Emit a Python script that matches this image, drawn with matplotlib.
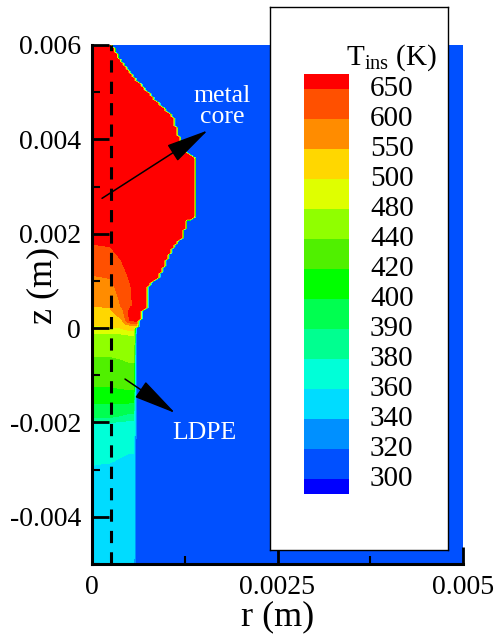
#Libraries
import numpy as np
import matplotlib
matplotlib.use('Agg')
import matplotlib.pyplot as plt

plt.rcParams['font.family'] = ['Liberation Serif', 'DejaVu Serif']
plt.rcParams['mathtext.fontset'] = 'custom'
plt.rcParams['mathtext.rm'] = 'Liberation Serif'

# Contour levels (K) and the band colours (one more band than levels)
levels = [300, 320, 340, 360, 380, 390, 400, 420, 440, 480, 500, 550, 600, 650]
band_colors = ['#0000FF', '#0050FF', '#0090FF', '#00DCFF', '#00FFD8', '#00FF90', '#00FF50',
               '#00FF00', '#50F000', '#90FF00', '#DFFF00', '#FFD700', '#FF8C00', '#FF5000', '#FF0000']

# Outer edge of metal core / LDPE (mm)
edge_z = [-5.0, 0.0, 0.02, 0.38, 0.44, 0.66, 0.87, 1.08, 1.38, 1.72, 1.93, 2.29, 2.35,
          3.62, 3.66, 4.05, 4.47, 5.04, 5.47, 5.85, 6.0]
edge_r = [0.57, 0.57, 0.62, 0.67, 0.74, 0.74, 0.74, 0.88, 0.98, 1.09, 1.21, 1.28, 1.39,
          1.37, 1.29, 1.16, 1.08, 0.71, 0.47, 0.30, 0.26]

# Temperature inside core + LDPE (K): rows at table_z, columns at table_r (mm)
table_r = [0.0, 0.25, 0.40, 0.50, 0.60]
table_z = [-5.0, -2.9, -2.0, -1.9, -1.6, -1.25, -0.6, -0.1, 0.05, 0.15, 0.3, 0.47, 0.9, 1.12, 1.5, 1.78, 2.0, 6.0]
table_T = [
    [345, 345, 345, 345, 345],
    [360, 359, 356, 354, 354],
    [380, 380, 378, 376, 376],
    [390, 390, 388, 386, 386],
    [400, 400, 400, 399, 399],
    [420, 420, 422, 424, 424],
    [440, 440, 442, 444, 444],
    [480, 480, 482, 484, 484],
    [500, 502, 510, 530, 540],
    [510, 515, 540, 655, 660],
    [530, 535, 570, 665, 670],
    [550, 555, 605, 645, 655],
    [580, 588, 625, 645, 665],
    [600, 606, 632, 655, 675],
    [622, 632, 655, 675, 690],
    [650, 655, 680, 690, 690],
    [690, 690, 690, 690, 690],
    [690, 690, 690, 690, 690],
]
T_outside = 310

# Annotation points (mm): arrow tail, arrow tip, text
core_arrow = [(0.135, 2.75), (1.56, 4.19), (1.75, 4.70)]
ldpe_arrow = [(0.445, -1.08), (1.12, -1.80), (1.52, -2.22)]
probe_r = 0.26  # dashed line (mm)


def build_field():
    r = np.linspace(0, 5, 126)
    z = np.linspace(-5, 6, 276)
    R, Z = np.meshgrid(r, z)
    cols = np.array(table_T, dtype=float).T
    Tz = np.array([np.interp(z, table_z, c) for c in cols])
    T = np.empty_like(R)
    for i in range(len(z)):
        T[i] = np.interp(r, table_r, Tz[:, i])
    inside = R <= np.interp(Z, edge_z, edge_r)
    T = np.where(inside, T, T_outside)
    return R * 1e-3, Z * 1e-3, T


def main():
    fig = plt.figure(figsize=(4.96, 6.42), dpi=100)
    ax = fig.add_axes([92 / 496, 1 - 564 / 642, 371 / 496, 519 / 642])

    R, Z, T = build_field()
    ax.contourf(R, Z, T, levels=[0] + levels + [2000], colors=band_colors)

    ax.axvline(probe_r * 1e-3, color='k', lw=2.2, ls=(0, (4, 3)), zorder=3)

    ax.set_xlim(0, 0.005)
    ax.set_ylim(-0.005, 0.006)
    ax.set_xticks([0, 0.0025, 0.005])
    ax.set_xticklabels(['0', '0.0025', '0.005'])
    ax.set_xticks([0.00125, 0.00375], minor=True)
    ax.set_yticks([-0.004, -0.002, 0, 0.002, 0.004, 0.006])
    ax.set_yticklabels(['-0.004', '-0.002', '0', '0.002', '0.004', '0.006'])
    ax.set_yticks(np.arange(-0.005, 0.0061, 0.001), minor=True)
    ax.tick_params(which='major', direction='in', length=12, width=2, labelsize=20, pad=8)
    ax.tick_params(which='minor', direction='in', length=6, width=1.5)
    for s in ['top', 'right']:
        ax.spines[s].set_visible(False)
    for s in ['left', 'bottom']:
        ax.spines[s].set_linewidth(2.2)

    ax.set_xlabel('r (m)', fontsize=26, labelpad=0)
    ax.set_ylabel('z (m)', fontsize=26, va='center')
    ax.yaxis.set_label_coords(-0.132, 0.536)

    # annotations
    for (tail, tip, txt), label in [(core_arrow, 'metal\ncore'), (ldpe_arrow, 'LDPE')]:
        ax.annotate('', xy=(tip[0] * 1e-3, tip[1] * 1e-3), xytext=(tail[0] * 1e-3, tail[1] * 1e-3),
                    arrowprops=dict(arrowstyle='-|>,head_length=2.7,head_width=0.6', mutation_scale=10,
                                    lw=1.1, color='k', shrinkA=0, shrinkB=0), zorder=4)
        ax.text(txt[0] * 1e-3, txt[1] * 1e-3, label, color='white', fontsize=18.5,
                ha='center', va='center', linespacing=0.95, zorder=4)

    # legend box (pixel coordinates)
    lg = fig.add_axes([270 / 496, 1 - 550 / 642, 178 / 496, 543 / 642], zorder=5)
    lg.set_xlim(270, 448)
    lg.set_ylim(550, 7)
    lg.set_xticks([])
    lg.set_yticks([])
    for s in lg.spines.values():
        s.set_linewidth(1.0)
    y_lev = [479 - 30 * k for k in range(len(levels))]
    edges = [494] + y_lev + [74]
    for i, c in enumerate(band_colors):
        lg.bar(326.5, edges[i + 1] - edges[i], bottom=edges[i], width=45, color=c, edgecolor='none')
    for k, lev in enumerate(levels):
        lg.text(370, y_lev[k], str(lev), fontsize=21, ha='left', va='center')
    lg.text(392, 58, r'T$_{\rm ins}$ (K)', fontsize=21, ha='center', va='center')

    fig.savefig('out.png', dpi=100)


if __name__ == "__main__":
    main()
